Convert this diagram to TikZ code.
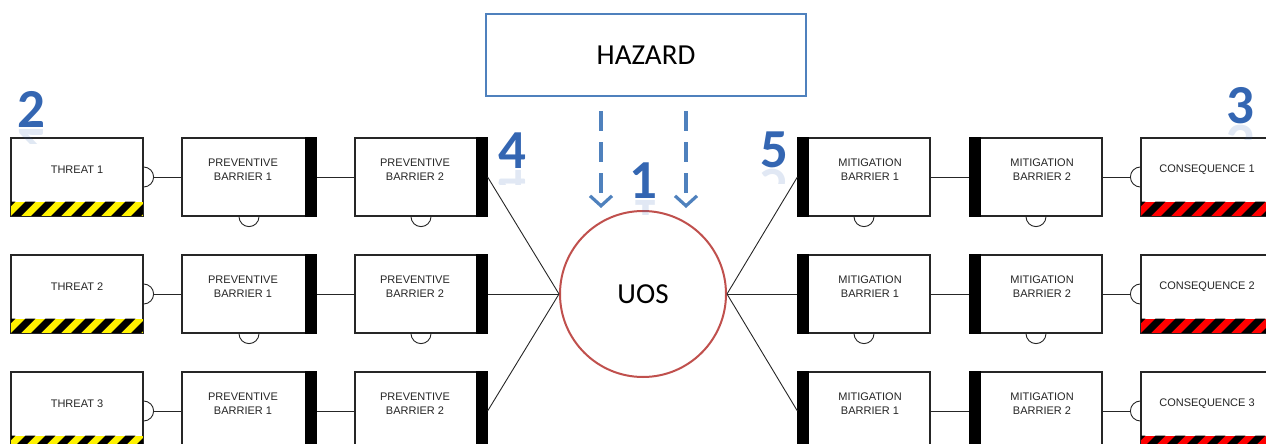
\documentclass[tikz,border=0pt]{standalone}
\usepackage{fontspec}
\setmainfont{Liberation Sans}
\newfontfamily\calibri{Carlito}
\usetikzlibrary{arrows.meta, positioning}

\definecolor{hzblue}{RGB}{79,129,189}
\definecolor{uosred}{RGB}{192,80,77}
\definecolor{digblue}{RGB}{52,102,178}

\begin{document}
\begin{tikzpicture}[x=1pt, y=-1pt,
  box/.style={rectangle, draw=black!85, line width=1.2pt, fill=white, minimum width=132pt, minimum height=78pt, inner sep=0pt},
  boxtxt/.style={font=\fontsize{11}{14}\selectfont, align=center, text=black!85},
  link/.style={draw=black!85, line width=0.9pt},
  hzarrow/.style={draw=hzblue, line width=3.5pt, dash pattern=on 20pt off 11pt, -{Straight Barb[length=10pt, width=22pt, line width=3.2pt]}},
  digit/.style={font=\calibri\bfseries\fontsize{55}{55}\selectfont, text=digblue, anchor=base, inner sep=0pt},
  mirror/.style={digit, anchor=base, yscale=-1, transform shape, opacity=.15}
]
\useasboundingbox (0,0) rectangle (1266,444);
\clip (0,0) rectangle (1266,444);

% -- Hazard and top event --
\node[draw=hzblue, line width=2pt, minimum width=320pt, minimum height=82pt, font=\calibri\fontsize{29}{29}\selectfont] (hazard) at (646,55) {HAZARD};
\node[circle, draw=uosred, line width=2pt, fill=white, minimum size=166pt, inner sep=0pt, font=\calibri\fontsize{29}{29}\selectfont] (uos) at (643,294) {UOS};

\draw[hzarrow] ([xshift=-45pt, yshift=-14pt]hazard.south) -- ++(0,97);
\draw[hzarrow] ([xshift=40pt, yshift=-14pt]hazard.south) -- ++(0,97);

% -- Rows: threat -> preventive -> UOS -> mitigation -> consequence --
\foreach \r/\y in {1/177, 2/294, 3/411} {
  \node[box] (threat\r) at (77,\y) {};
  \node[box, minimum width=134pt] (pba\r) at (249,\y) {};
  \node[box] (pbb\r) at (421,\y) {};
  \node[box] (mba\r) at (864,\y) {};
  \node[box] (mbb\r) at (1036,\y) {};
  \node[box] (cons\r) at (1207,\y) {};

  % hatch bands
  \begin{scope}
    \clip (threat\r.south west) rectangle ([yshift=15pt]threat\r.south east);
    \fill[yellow] (threat\r.south west) rectangle ([yshift=15pt]threat\r.south east);
    \foreach \k in {-1,...,7}
      \fill[black] ([xshift=\k*20pt]threat\r.south west) -- ++(10,0) -- ++(15,-15) -- ++(-10,0) -- cycle;
  \end{scope}
  \begin{scope}
    \clip (cons\r.south west) rectangle ([yshift=15pt]cons\r.south east);
    \fill[red] (cons\r.south west) rectangle ([yshift=15pt]cons\r.south east);
    \foreach \k in {-1,...,7}
      \fill[black] ([xshift=\k*20pt]cons\r.south west) -- ++(10,0) -- ++(15,-15) -- ++(-10,0) -- cycle;
  \end{scope}
  \draw[black!85, line width=1.2pt] (threat\r.north west) rectangle (threat\r.south east);
  \draw[black!85, line width=1.2pt] (cons\r.north west) rectangle (cons\r.south east);

  % barrier bars
  \fill[black] (pba\r.north east) rectangle ([xshift=-12pt]pba\r.south east);
  \fill[black] (pbb\r.north east) rectangle ([xshift=-12pt]pbb\r.south east);
  \fill[black] (mba\r.north west) rectangle ([xshift=12pt]mba\r.south west);
  \fill[black] (mbb\r.north west) rectangle ([xshift=12pt]mbb\r.south west);

  % texts
  \node[boxtxt] (threat\r-t) at ([yshift=7pt]threat\r.center) {THREAT \r};
  \node[boxtxt] (pba\r-t) at ([xshift=-6pt, yshift=7pt]pba\r.center) {PREVENTIVE\\BARRIER 1};
  \node[boxtxt] (pbb\r-t) at ([xshift=-6pt, yshift=7pt]pbb\r.center) {PREVENTIVE\\BARRIER 2};
  \node[boxtxt] (mba\r-t) at ([xshift=6pt, yshift=7pt]mba\r.center) {MITIGATION\\BARRIER 1};
  \node[boxtxt] (mbb\r-t) at ([xshift=6pt, yshift=7pt]mbb\r.center) {MITIGATION\\BARRIER 2};
  \node[boxtxt] (cons\r-t) at ([yshift=7pt]cons\r.center) {CONSEQUENCE \r};

  % bumps
  \draw[link] ([yshift=10pt]threat\r.east) arc[start angle=-90, end angle=90, radius=10];
  \draw[link] ([yshift=10pt]cons\r.west) arc[start angle=-90, end angle=-270, radius=10];
  \foreach \b in {pba, pbb, mba, mbb}
    \draw[link] ([xshift=-10pt]\b\r.south) arc[start angle=180, end angle=0, radius=10];

  % links
  \draw[link] ([xshift=10pt]threat\r.east) -- (pba\r.west);
  \draw[link] (pba\r.east) -- (pbb\r.west);
  \draw[link] (pbb\r.east) -- (uos.west);
  \draw[link] (uos.east) -- (mba\r.west);
  \draw[link] (mba\r.east) -- (mbb\r.west);
  \draw[link] (mbb\r.east) -- ([xshift=-10pt]cons\r.west);
}

% -- Numbers (with faint reflection) --
\foreach \n/\px/\py in {2/31/127, 3/1240/123, 4/512/168, 5/774/167, 1/643/198} {
  \begin{scope}
    \clip (\px-25,\py+1) rectangle (\px+25,\py+16);
    \node[mirror] (num\n-m) at (\px,\py+2) {\n};
  \end{scope}
  \node[digit] (num\n) at (\px,\py) {\n};
}

\end{tikzpicture}
\end{document}
